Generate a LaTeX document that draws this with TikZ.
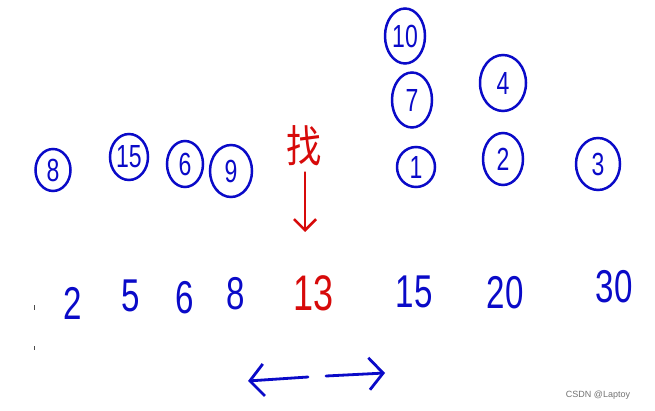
\documentclass[tikz,border=0pt]{standalone}
\usepackage{fontspec}
\usepackage{graphicx}
\setmainfont{Liberation Sans}
\newfontfamily\cjk{Noto Sans CJK SC}
\usetikzlibrary{shapes.geometric,arrows.meta}
\definecolor{penblue}{RGB}{10,10,200}
\definecolor{penred}{RGB}{215,10,10}
\newcommand\hnum[1]{\scalebox{0.72}[1]{#1}}
\tikzset{
  cnum/.style={draw=penblue, line width=2.5pt, ellipse, inner sep=0pt, text=penblue,
    font=\fontsize{32}{32}\selectfont},
  bnum/.style={text=penblue, inner sep=0pt, font=\fontsize{46}{46}\selectfont},
  rnum/.style={text=penred, inner sep=0pt, font=\fontsize{50}{50}\selectfont},
  bluearrow/.style={draw=penblue, line width=2.8pt, line cap=round,
    -{Straight Barb[length=14pt,width=32pt,line width=2.8pt]}},
  redarrow/.style={draw=penred, line width=2.6pt, line cap=round,
    -{Straight Barb[length=11pt,width=22pt,line width=2.6pt]}},
  tick/.style={draw=black!70, line width=0.8pt}
}
\begin{document}
\begin{tikzpicture}[x=1pt,y=-1pt]
\fill[white] (0,0) rectangle (655,411);
\useasboundingbox (0,0) rectangle (655,411);
% circled numbers, left group
\node[cnum, minimum width=35, minimum height=42] (c8) at (53,170) {\hnum{8}};
\node[cnum, minimum width=38, minimum height=46] (c15) at (129,157) {\hnum{15}};
\node[cnum, minimum width=36, minimum height=46] (c6) at (185,164) {\hnum{6}};
\node[cnum, minimum width=42, minimum height=52] (c9) at (231,171) {\hnum{9}};
% circled numbers, right group
\node[cnum, minimum width=40, minimum height=55] (c10) at (405,36) {\hnum{10}};
\node[cnum, minimum width=40, minimum height=55] (c7) at (412,100) {\hnum{7}};
\node[cnum, minimum width=46, minimum height=56] (c4) at (503,83) {\hnum{4}};
\node[cnum, minimum width=38, minimum height=40] (c1) at (416,167) {\hnum{1}};
\node[cnum, minimum width=40, minimum height=52] (c2) at (503,159) {\hnum{2}};
\node[cnum, minimum width=44, minimum height=52] (c3) at (598,164) {\hnum{3}};
% red "find" mark and arrow
\node[text=penred, inner sep=0pt, font=\cjk\fontsize{44}{44}\selectfont] (find) at (304,146) {\scalebox{0.8}[1]{找}};
\coordinate (findtip) at (305,232);
\draw[redarrow] (find.south) ++(1,6) -- (findtip);
% bottom number row
\node[bnum] (n2) at (73,303) {\hnum{2}};
\node[bnum] (n5) at (131,296) {\hnum{5}};
\node[bnum] (n6) at (185,298) {\hnum{6}};
\node[bnum] (n8) at (236,294) {\hnum{8}};
\node[rnum] (n13) at (314,293) {\hnum{13}};
\node[bnum] (n15) at (414,292) {\hnum{15}};
\node[bnum] (n20) at (505,293) {\hnum{20}};
\node[bnum] (n30) at (614,287) {\hnum{30}};
% two-way arrow at the bottom
\coordinate (lstart) at (308,377);
\coordinate (lend) at (248,381);
\coordinate (rstart) at (326,376);
\coordinate (rend) at (385,373);
\draw[bluearrow] (lstart) -- (lend);
\draw[bluearrow] (rstart) -- (rend);
% small marks at the left edge
\coordinate (m1a) at (34,305);
\coordinate (m1b) at (34,310);
\coordinate (m2a) at (34,346);
\coordinate (m2b) at (34,350);
\draw[tick] (m1a) -- (m1b);
\draw[tick] (m2a) -- (m2b);
% watermark
\node[text=black!55, inner sep=0pt, font=\fontsize{9}{9}\selectfont] (wm) at (598,395) {CSDN @Laptoy};
\end{tikzpicture}
\end{document}
